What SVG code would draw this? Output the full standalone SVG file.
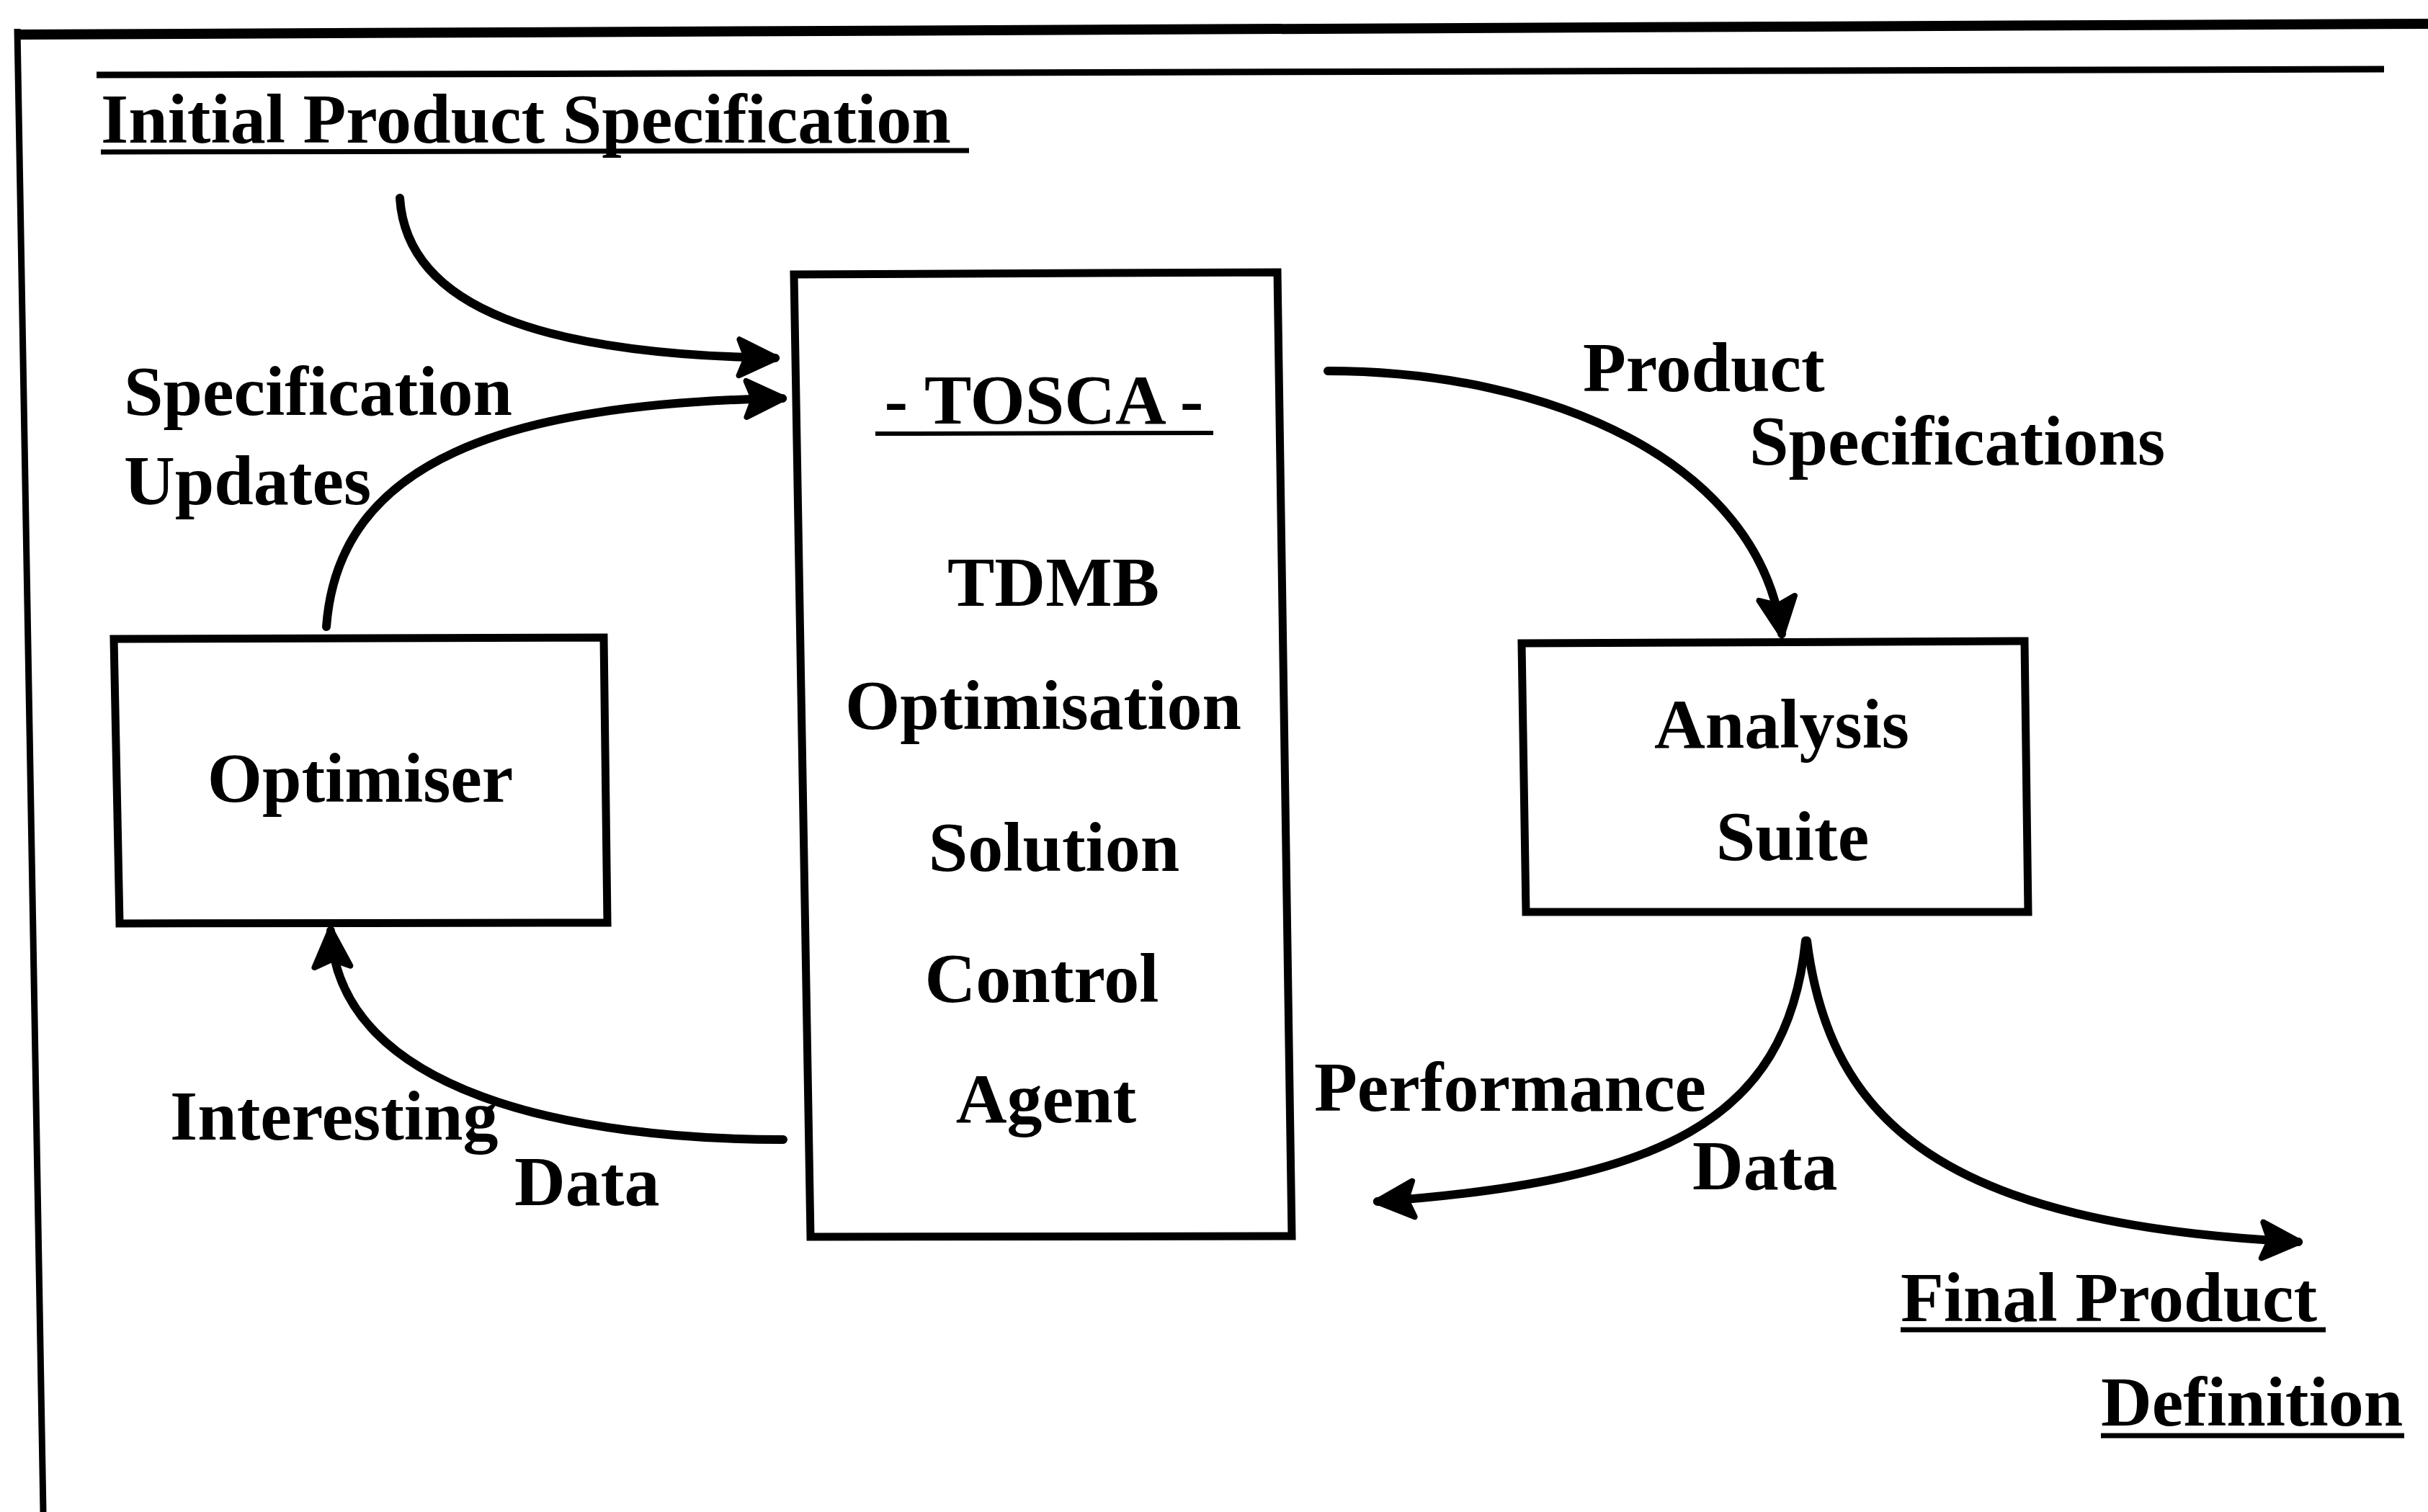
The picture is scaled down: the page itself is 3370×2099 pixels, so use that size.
<svg xmlns="http://www.w3.org/2000/svg" width="3370" height="2099" viewBox="0 0 3370 2099">
  <defs>
    <style>
      .lbl { font-family: "Liberation Serif", "Times New Roman", serif; font-weight: bold; font-size: 98px; fill: #000; }
      .box { fill: #fff; stroke: #000; stroke-width: 11; stroke-linejoin: miter; }
      .rule { stroke: #000; fill: none; stroke-linecap: butt; }
      .flow { fill: none; stroke: #000; stroke-width: 12; stroke-linecap: round; }
    </style>
    <marker id="head" markerUnits="userSpaceOnUse" markerWidth="80" markerHeight="80" viewBox="-60 -40 70 80" refX="0" refY="0" orient="auto">
      <path d="M2,0 L-50,-25 L-40,0 L-50,25 Z" fill="#000" stroke="#000" stroke-width="8" stroke-linejoin="round"/>
    </marker>
  </defs>

  <rect x="0" y="0" width="3370" height="2099" fill="#fff"/>

  <!-- page frame -->
  <g id="frame">
    <path class="rule" d="M22,48 L3370,33" stroke-width="14"/>
    <path class="rule" d="M24,40 L60,2099" stroke-width="9"/>
    <path class="rule" d="M134,104 L3309,96" stroke-width="9"/>
  </g>

  <!-- start and end terminals -->
  <g id="initial-spec">
    <text class="lbl" x="140" y="198">Initial Product Specification</text>
    <path class="rule" d="M140,211 L1345,209" stroke-width="7"/>
  </g>
  <g id="final-definition">
    <text class="lbl" x="2638" y="1834">Final Product</text>
    <path class="rule" d="M2638,1846 L3228,1846" stroke-width="7"/>
    <text class="lbl" x="2916" y="1979">Definition</text>
    <path class="rule" d="M2916,1993 L3337,1993" stroke-width="7"/>
  </g>

  <!-- TOSCA agent -->
  <g id="tosca">
    <polygon class="box" points="1102,381 1773,378 1793,1716 1125,1717"/>
    <text class="lbl" x="1449" y="588" text-anchor="middle" font-size="100">- TOSCA -</text>
    <path class="rule" d="M1215,602 L1684,601" stroke-width="6"/>
    <text class="lbl" x="1462" y="841" text-anchor="middle" font-size="102">TDMB</text>
    <text class="lbl" x="1448" y="1012" text-anchor="middle" font-size="99">Optimisation</text>
    <text class="lbl" x="1463" y="1209" text-anchor="middle" font-size="100">Solution</text>
    <text class="lbl" x="1446" y="1391" text-anchor="middle" font-size="99">Control</text>
    <text class="lbl" x="1452" y="1558" text-anchor="middle" font-size="101">Agent</text>
  </g>

  <!-- optimiser -->
  <g id="optimiser">
    <polygon class="box" points="158,887 838,885 843,1281 166,1282"/>
    <text class="lbl" x="500" y="1113" text-anchor="middle" font-size="96">Optimiser</text>
  </g>

  <!-- analysis suite -->
  <g id="analysis-suite">
    <polygon class="box" points="2112,893 2810,890 2815,1266 2118,1266"/>
    <text class="lbl" x="2473" y="1038" text-anchor="middle" font-size="97">Analysis</text>
    <text class="lbl" x="2488" y="1194" text-anchor="middle" font-size="100">Suite</text>
  </g>

  <!-- data flows -->
  <g id="connectors">
    <path class="flow" d="M555,275 C565,430 760,492 1076,497" marker-end="url(#head)"/>
    <path class="flow" d="M453,870 C470,640 700,560 1086,553" marker-end="url(#head)"/>
    <path class="flow" d="M1843,515 C2150,515 2440,640 2473,880" marker-end="url(#head)"/>
    <path class="flow" d="M1087,1582 C800,1582 470,1520 459,1292" marker-end="url(#head)"/>
    <path class="flow" d="M2506,1306 C2480,1560 2300,1640 1912,1668" marker-end="url(#head)"/>
    <path class="flow" d="M2508,1306 C2540,1560 2700,1700 3190,1724" marker-end="url(#head)"/>
  </g>

  <!-- flow labels -->
  <g id="flow-labels">
    <text class="lbl" x="172" y="576">Specification</text>
    <text class="lbl" x="172" y="700">Updates</text>
    <text class="lbl" x="2197" y="543">Product</text>
    <text class="lbl" x="2428" y="645">Specifications</text>
    <text class="lbl" x="236" y="1582">Interesting</text>
    <text class="lbl" x="714" y="1673">Data</text>
    <text class="lbl" x="1824" y="1542">Performance</text>
    <text class="lbl" x="2349" y="1651">Data</text>
  </g>
</svg>
